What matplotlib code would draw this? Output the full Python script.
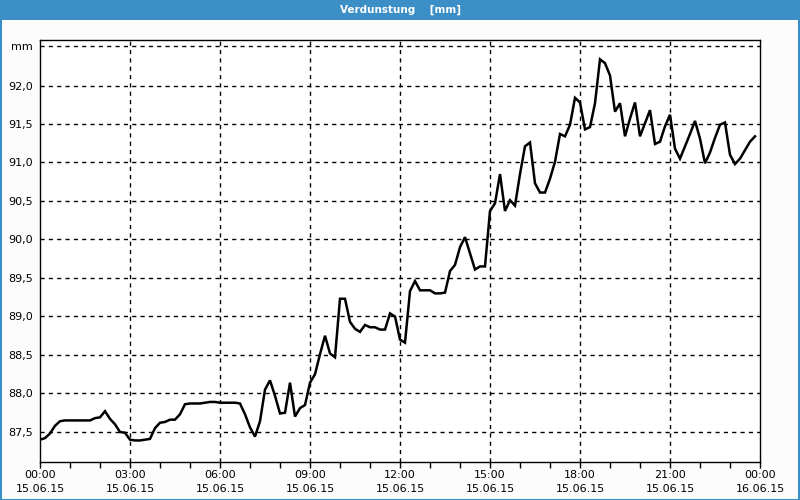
import matplotlib
matplotlib.use("Agg")
import matplotlib.pyplot as plt
from matplotlib.patches import Rectangle
import numpy as np

# ---- data (10-minute readings, 15.06.15 00:00 .. 23:50) ----
values = [
    87.40, 87.42, 87.48, 87.58, 87.64, 87.65, 87.65, 87.65, 87.65, 87.65,
    87.65, 87.68, 87.69, 87.77, 87.67, 87.60, 87.50, 87.49, 87.40, 87.39,
    87.39, 87.40, 87.41, 87.55, 87.62, 87.63, 87.66, 87.66, 87.73, 87.86,
    87.87, 87.87, 87.87, 87.88, 87.89, 87.89, 87.88, 87.88, 87.88, 87.88,
    87.87, 87.73, 87.56, 87.44, 87.64, 88.05, 88.17, 87.97, 87.74, 87.75,
    88.14, 87.70, 87.81, 87.85, 88.14, 88.25, 88.51, 88.75, 88.52, 88.47,
    89.23, 89.23, 88.93, 88.84, 88.80, 88.89, 88.86, 88.86, 88.83, 88.83,
    89.04, 89.00, 88.70, 88.66, 89.33, 89.46, 89.34, 89.34, 89.34, 89.30,
    89.30, 89.31, 89.59, 89.67, 89.90, 90.03, 89.82, 89.61, 89.65, 89.65,
    90.37, 90.47, 90.85, 90.37, 90.51, 90.44, 90.85, 91.21, 91.26, 90.73,
    90.61, 90.61, 90.79, 91.01, 91.37, 91.34, 91.49, 91.84, 91.78, 91.43,
    91.46, 91.77, 92.34, 92.29, 92.13, 91.66, 91.77, 91.34, 91.57, 91.78,
    91.34, 91.51, 91.68, 91.24, 91.27, 91.47, 91.62, 91.18, 91.05, 91.21,
    91.37, 91.54, 91.31, 90.99, 91.13, 91.32, 91.49, 91.52, 91.10, 90.98,
    91.05, 91.16, 91.27, 91.34,
]
step_minutes = 10
hours = [i * step_minutes / 60 for i in range(len(values))]

x_major_hours = [0, 3, 6, 9, 12, 15, 18, 21, 24]
x_tick_labels = ["00:00\n15.06.15", "03:00\n15.06.15", "06:00\n15.06.15",
                 "09:00\n15.06.15", "12:00\n15.06.15", "15:00\n15.06.15",
                 "18:00\n15.06.15", "21:00\n15.06.15", "00:00\n16.06.15"]
y_ticks = [87.5, 88.0, 88.5, 89.0, 89.5, 90.0, 90.5, 91.0, 91.5, 92.0]
y_unit_level = 92.513
title_text = "Verdunstung    [mm]"

# ---- figure ----
fig = plt.figure(figsize=(8, 5), dpi=100)
fig.patch.set_facecolor("#fbfcfb")
blue = "#3b8fc6"

# title bar & border
fig.add_artist(Rectangle((0, 1 - 20 / 500), 1, 20 / 500, transform=fig.transFigure,
                         facecolor=blue, edgecolor="none", zorder=0))
fig.add_artist(Rectangle((0.5 / 800, 0.5 / 500), 1 - 1.5 / 800, 1 - 1.5 / 500,
                         transform=fig.transFigure, facecolor="none",
                         edgecolor=blue, linewidth=1.5, zorder=0))
fig.text(0.5, 1 - 10 / 500, title_text, color="white", fontsize=7.5,
         fontweight="bold", ha="center", va="center")

ax = fig.add_axes([40 / 800, 1 - 462 / 500, 720 / 800, 422 / 500])
ax.set_facecolor("white")
ax.plot(hours, values, color="black", linewidth=1.8, solid_joinstyle="miter", zorder=3)

ax.set_xlim(0, 24)
ax.set_ylim(87.110, 92.591)

ax.set_xticks(x_major_hours)
ax.set_xticklabels(x_tick_labels, fontsize=8, linespacing=1.45)
ax.set_xticks(np.arange(0, 25, 1), minor=True)
ax.tick_params(axis="x", which="both", direction="out", length=4, width=1,
               color="black", pad=2)

yt = y_ticks + [y_unit_level]
ax.set_yticks(yt)
ax.set_yticklabels([f"{v:.1f}".replace(".", ",") for v in y_ticks] + ["mm"], fontsize=8)
ax.tick_params(axis="y", length=0, pad=5)

for v in yt:
    ax.axhline(v, color="black", linestyle=(0, (3, 3)), linewidth=1, zorder=1)
for h in x_major_hours[1:-1]:
    ax.axvline(h, color="black", linestyle=(0, (3, 3)), linewidth=1, zorder=1)

for s in ax.spines.values():
    s.set_color("black")
    s.set_linewidth(1)

fig.savefig("out.png", dpi=100, facecolor=fig.get_facecolor())
